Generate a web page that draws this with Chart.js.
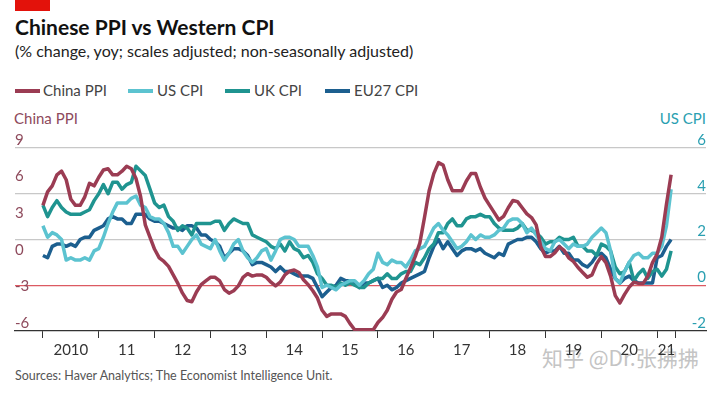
<!DOCTYPE html>
<html>
<head>
<meta charset="utf-8">
<script src="https://cdn.jsdelivr.net/npm/chart.js@4"></script>
<style>
  body { margin: 0; width: 720px; height: 396px; background: #fff; position: relative; overflow: hidden; font-family: Lato, "Open Sans", sans-serif; }
  .redbar { position: absolute; left: 15px; top: 0; width: 35px; height: 11px; background: #e3120b; }
  .title { position: absolute; left: 15px; top: 14px; font-size: 21px; font-weight: 700; color: #111; }
  .subtitle { position: absolute; left: 15px; top: 41px; font-size: 16px; color: #222; }
  .legend { position: absolute; left: 15px; top: 81px; font-size: 15px; color: #444; }
  .legend span { position: absolute; white-space: nowrap; }
  .legend i { position: absolute; top: 8px; width: 25px; height: 4px; }
  .axt { position: absolute; top: 109px; font-size: 15px; }
  .source { position: absolute; left: 15px; top: 368px; font-size: 12.5px; color: #555; }
  .mark { position: absolute; left: 542px; top: 342px; font-size: 21px; color: #c4c4c4; font-family: "Noto Sans CJK SC", sans-serif; }
  canvas { position: absolute; left: 0; top: 116px; }
</style>
</head>
<body>
<div class="redbar"></div>
<div class="title">Chinese PPI vs Western CPI</div>
<div class="subtitle">(% change, yoy; scales adjusted; non-seasonally adjusted)</div>
<div class="legend">
  <i style="left:0;background:#9b3c53"></i><span style="left:28px">China PPI</span>
  <i style="left:113px;background:#5cc3d0"></i><span style="left:142px">US CPI</span>
  <i style="left:210px;background:#1f9490"></i><span style="left:239px">UK CPI</span>
  <i style="left:310px;background:#1c5f8f"></i><span style="left:339px">EU27 CPI</span>
</div>
<div class="axt" style="left:14px;color:#8e4a5c">China PPI</div>
<div class="axt" style="right:14px;color:#2a9fb1">US CPI</div>
<div class="mark">知乎 @Dr.张拂拂</div>
<div class="source">Sources: Haver Analytics; The Economist Intelligence Unit.</div>
<canvas id="chart" width="720" height="246"></canvas>

<script>
// monthly values, Jan 2010 to Apr 2021
const chinaPPI = [
  4.3, 5.4, 5.9, 6.8, 7.1, 6.4, 4.8, 4.3, 4.3, 5.0, 6.1, 5.9,
  6.6, 7.2, 7.3, 6.8, 6.8, 7.1, 7.5, 7.3, 6.5, 5.0, 2.7, 1.7,
  0.7, 0.0, -0.3, -0.7, -1.4, -2.1, -2.9, -3.5, -3.6, -2.8, -2.2, -1.9,
  -1.6, -1.6, -1.9, -2.6, -2.9, -2.7, -2.3, -1.6, -1.3, -1.5, -1.4, -1.4,
  -1.6, -2.0, -2.3, -2.0, -1.4, -1.1, -1.0, -1.2, -1.8, -2.2, -2.7, -3.3,
  -4.3, -4.8, -4.6, -4.6, -4.6, -4.8, -5.4, -5.9, -5.9, -5.9, -5.9, -5.9,
  -5.3, -4.9, -4.3, -3.4, -2.8, -2.6, -1.7, -0.8, 0.1, 1.2, 3.3, 5.5,
  6.9, 7.8, 7.6, 6.4, 5.5, 5.5, 5.5, 6.3, 6.9, 6.9, 5.8, 4.9,
  4.3, 3.7, 3.1, 3.4, 4.1, 4.7, 4.6, 4.1, 3.6, 3.3, 2.7, 0.9,
  0.1, 0.1, 0.4, 0.9, 0.6, 0.0, -0.3, -0.8, -1.2, -1.6, -1.4, -0.5,
  0.1, -0.4, -1.5, -3.1, -3.7, -3.0, -2.4, -2.0, -2.1, -2.1, -1.5, -0.4,
  0.3, 1.7, 4.4, 6.8
];
const usCPI = [
  2.6, 2.1, 2.3, 2.2, 2.0, 1.1, 1.2, 1.1, 1.1, 1.2, 1.1, 1.5,
  1.6, 2.1, 2.7, 3.2, 3.6, 3.6, 3.6, 3.8, 3.9, 3.5, 3.4, 3.0,
  2.9, 2.9, 2.7, 2.3, 1.7, 1.7, 1.4, 1.7, 2.0, 2.2, 1.8, 1.7,
  1.6, 2.0, 1.5, 1.1, 1.4, 1.8, 2.0, 1.5, 1.2, 1.0, 1.2, 1.5,
  1.6, 1.1, 1.5, 2.0, 2.1, 2.1, 2.0, 1.7, 1.7, 1.7, 1.3, 0.8,
  -0.1, 0.0, -0.1, -0.2, 0.0, 0.1, 0.2, 0.2, 0.0, 0.2, 0.5, 0.7,
  1.4, 1.0, 0.9, 1.1, 1.0, 1.0, 0.8, 1.1, 1.5, 1.6, 1.7, 2.1,
  2.5, 2.7, 2.4, 2.2, 1.9, 1.6, 1.7, 1.9, 2.2, 2.0, 2.2, 2.1,
  2.1, 2.2, 2.4, 2.5, 2.8, 2.9, 2.9, 2.7, 2.3, 2.5, 2.2, 1.9,
  1.6, 1.5, 1.9, 2.0, 1.8, 1.6, 1.8, 1.7, 1.7, 1.8, 2.1, 2.3,
  2.5, 2.3, 1.5, 0.3, 0.1, 0.6, 1.0, 1.3, 1.4, 1.2, 1.2, 1.4,
  1.4, 1.7, 2.6, 4.2
];
const ukCPI = [
  3.5, 3.0, 3.4, 3.7, 3.4, 3.2, 3.1, 3.1, 3.1, 3.2, 3.3, 3.7,
  4.0, 4.4, 4.0, 4.5, 4.5, 4.2, 4.4, 4.5, 5.2, 5.0, 4.8, 4.2,
  3.6, 3.4, 3.5, 3.0, 2.8, 2.4, 2.6, 2.5, 2.2, 2.7, 2.7, 2.7,
  2.7, 2.8, 2.8, 2.4, 2.7, 2.9, 2.8, 2.7, 2.7, 2.2, 2.1, 2.0,
  1.9, 1.7, 1.6, 1.8, 1.5, 1.9, 1.6, 1.5, 1.2, 1.3, 1.0, 0.5,
  0.3, 0.0, 0.0, -0.1, 0.1, 0.0, 0.1, 0.0, -0.1, -0.1, 0.1, 0.2,
  0.3, 0.3, 0.5, 0.3, 0.3, 0.5, 0.6, 0.6, 1.0, 0.9, 1.2, 1.6,
  1.8, 2.3, 2.3, 2.7, 2.9, 2.6, 2.6, 2.9, 3.0, 3.0, 3.1, 3.0,
  3.0, 2.7, 2.5, 2.4, 2.4, 2.4, 2.5, 2.7, 2.4, 2.4, 2.3, 2.1,
  1.8, 1.9, 1.9, 2.1, 2.0, 2.0, 2.1, 1.7, 1.7, 1.5, 1.5, 1.3,
  1.8, 1.7, 1.5, 0.8, 0.5, 0.6, 1.0, 0.2, 0.5, 0.7, 0.3, 0.6,
  0.7, 0.4, 0.7, 1.5
];
const eu27CPI = [
  1.3, 1.2, 1.7, 1.8, 1.8, 1.7, 1.8, 1.7, 2.0, 2.1, 2.1, 2.4,
  2.5, 2.6, 2.9, 3.0, 2.9, 2.9, 2.7, 2.7, 3.1, 3.1, 3.1, 2.9,
  2.8, 2.8, 2.7, 2.6, 2.5, 2.5, 2.4, 2.6, 2.6, 2.5, 2.2, 2.2,
  2.0, 1.9, 1.7, 1.2, 1.4, 1.6, 1.6, 1.5, 1.3, 0.9, 1.0, 1.0,
  0.9, 0.8, 0.6, 0.8, 0.6, 0.6, 0.5, 0.4, 0.4, 0.4, 0.3, -0.1,
  -0.5, -0.3, -0.1, 0.0, 0.3, 0.2, 0.2, 0.1, -0.1, 0.1, 0.1, 0.2,
  0.3, -0.1, 0.0, -0.2, -0.1, 0.1, 0.2, 0.3, 0.4, 0.5, 0.6, 1.2,
  1.7, 2.0, 1.6, 1.9, 1.6, 1.3, 1.5, 1.6, 1.6, 1.5, 1.6, 1.4,
  1.3, 1.2, 1.4, 1.3, 1.8, 1.9, 2.0, 2.0, 2.1, 2.1, 1.9, 1.6,
  1.4, 1.5, 1.5, 1.7, 1.4, 1.4, 1.1, 1.1, 0.9, 0.8, 1.0, 1.3,
  1.4, 1.2, 0.7, 0.3, 0.1, 0.3, 0.4, 0.2, 0.1, 0.1, 0.1, 0.1,
  1.2, 1.3, 1.7, 2.0
];
const yearLabels = ['2010', '11', '12', '13', '14', '15', '16', '17', '18', '19', '20', '21'];
const leftTicks = [-6, -3, 0, 3, 6, 9];
const rightTicks = [-2, 0, 2, 4, 6];

// x is months since Jan 2010
const toPoints = arr => arr.map((v, i) => ({ x: i, y: v }));
const lastMonth = chinaPPI.length;   // end-of-data tick

const xTicks = [];
yearLabels.forEach((lab, k) => {
  xTicks.push({ value: k * 12, label: '' });
  const mid = k < yearLabels.length - 1 ? k * 12 + 6 : (k * 12 + lastMonth) / 2;
  xTicks.push({ value: mid, label: lab });
});
xTicks.push({ value: lastMonth, label: '' });
const isMark = v => xTicks.some(t => t.value === v && t.label === '');

const lineDs = (label, data, color, axis) => ({
  label: label,
  data: toPoints(data),
  borderColor: color,
  backgroundColor: color,
  borderWidth: 3.5,
  pointRadius: 0,
  tension: 0,
  borderJoinStyle: 'round',
  yAxisID: axis
});

new Chart(document.getElementById('chart').getContext('2d'), {
  type: 'line',
  data: {
    datasets: [
      lineDs('China PPI', chinaPPI, '#9b3c53', 'yL'),
      lineDs('US CPI', usCPI, '#5cc3d0', 'yR'),
      lineDs('UK CPI', ukCPI, '#1f9490', 'yR'),
      lineDs('EU27 CPI', eu27CPI, '#1c5f8f', 'yR')
    ]
  },
  options: {
    responsive: false,
    animation: false,
    devicePixelRatio: 1,
    layout: { padding: { left: 15, right: 14, top: 32, bottom: 0 } },
    plugins: { legend: { display: false }, tooltip: { enabled: false } },
    scales: {
      x: {
        type: 'linear',
        min: -6,
        max: 142.5,
        afterBuildTicks: axis => { axis.ticks = xTicks.map(t => ({ value: t.value })); },
        ticks: {
          autoSkip: false,
          maxRotation: 0,
          padding: 3,
          color: '#333',
          font: { family: 'Lato', size: 15 },
          callback: v => (xTicks.find(t => t.value === v) || {}).label
        },
        grid: {
          drawOnChartArea: false,
          drawTicks: true,
          tickLength: 7,
          color: ctx => isMark(ctx.tick.value) ? '#333' : 'rgba(0,0,0,0)'
        },
        border: { display: true, color: '#333', width: 1.2 }
      },
      yL: {
        position: 'left',
        min: -6,
        max: 9,
        afterBuildTicks: axis => { axis.ticks = leftTicks.map(v => ({ value: v })); },
        ticks: {
          mirror: true,
          padding: 0,
          labelOffset: -8,
          color: '#8e4a5c',
          font: { family: 'Lato', size: 15 }
        },
        grid: { display: false, drawTicks: false },
        border: { display: false }
      },
      yR: {
        position: 'right',
        min: -2,
        max: 6,
        afterBuildTicks: axis => { axis.ticks = rightTicks.map(v => ({ value: v })); },
        ticks: {
          mirror: true,
          padding: 0,
          labelOffset: -8,
          color: '#2a9fb1',
          font: { family: 'Lato', size: 15 }
        },
        grid: {
          drawTicks: false,
          lineWidth: 1.2,
          color: ctx => ctx.tick.value === 0 ? '#dc5a62' : (ctx.tick.value === -2 ? 'rgba(0,0,0,0)' : '#c8c8c8')
        },
        border: { display: false }
      }
    }
  }
});
</script>
</body>
</html>
